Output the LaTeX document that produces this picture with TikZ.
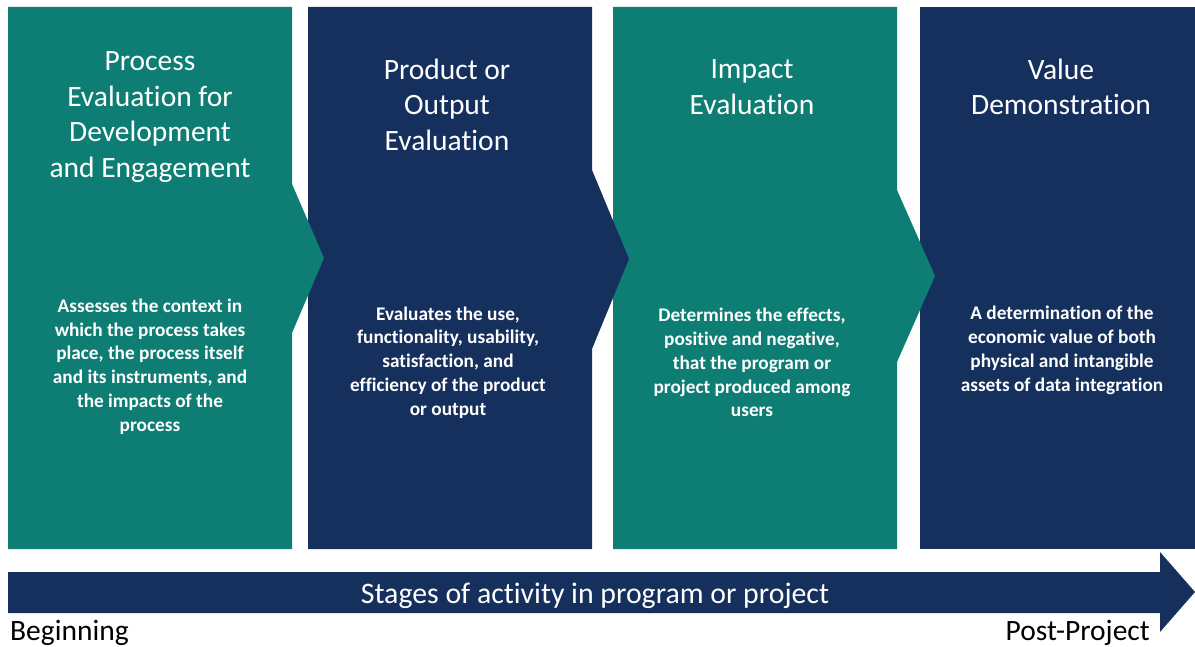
\documentclass[tikz,border=0pt]{standalone}
\usepackage{fontspec}
\setmainfont{Carlito}[Ligatures=NoCommon]
\definecolor{tealpanel}{RGB}{14,126,116}
\definecolor{navypanel}{RGB}{22,48,94}
\tikzset{
  heading/.style={text=white, align=center, font=\fontsize{29.5}{35.5}\selectfont, inner sep=0pt},
  bodytext/.style={text=white, align=center, font=\bfseries\fontsize{19.3}{23.8}\selectfont, inner sep=0pt},
  endlabel/.style={text=black, font=\fontsize{29.5}{33}\selectfont, inner sep=0pt},
}
\begin{document}
\begin{tikzpicture}[x=1pt, y=-1pt]
\useasboundingbox (0,0) rectangle (1195,647);

% stage panels, drawn right to left so each chevron tip lies over the next panel
\fill[navypanel] (920,7) -- (1195,7) -- (1195,549) -- (920,549) -- cycle;
\fill[tealpanel] (613,7) -- (897,7) -- (897,190) -- (935,276) -- (897,362) -- (897,549) -- (613,549) -- cycle;
\fill[navypanel] (308,7) -- (592,7) -- (592,170) -- (629,259) -- (592,349) -- (592,549) -- (308,549) -- cycle;
\fill[tealpanel] (8,7) -- (292,7) -- (292,184) -- (324,258) -- (292,333) -- (292,549) -- (8,549) -- cycle;

% timeline arrow
\fill[navypanel] (8,572) -- (1160,572) -- (1160,552) -- (1195,592) -- (1160,632) -- (1160,613) -- (8,613) -- cycle;

% headings
\node[heading] (h1) at (150,117) {Process\\Evaluation for\\Development\\and Engagement};
\node[heading] (h2) at (447,104.5) {Product or\\Output\\Evaluation};
\node[heading] (h3) at (752,87) {Impact\\Evaluation};
\node[heading] (h4) at (1061,87) {Value\\Demonstration};

% descriptions
\node[bodytext] (b1) at (150,366.5) {Assesses the context in\\which the process takes\\place, the process itself\\and its instruments, and\\the impacts of the\\process};
\node[bodytext] (b2) at (448,362.5) {Evaluates the use,\\functionality, usability,\\satisfaction, and\\efficiency of the product\\or output};
\node[bodytext] (b3) at (752,362.5) {Determines the effects,\\positive and negative,\\that the program or\\project produced among\\users};
\node[bodytext] (b4) at (1062,350.5) {A determination of the\\economic value of both\\physical and intangible\\assets of data integration};

% timeline labels
\node[text=white, font=\fontsize{29.8}{33}\selectfont, inner sep=0pt] (stages) at (595,596) {Stages of activity in program or project};
\node[endlabel, anchor=west] (begin) at (10,633) {Beginning};
\node[endlabel, anchor=east] (post) at (1150,633) {Post-Project};
\end{tikzpicture}
\end{document}
